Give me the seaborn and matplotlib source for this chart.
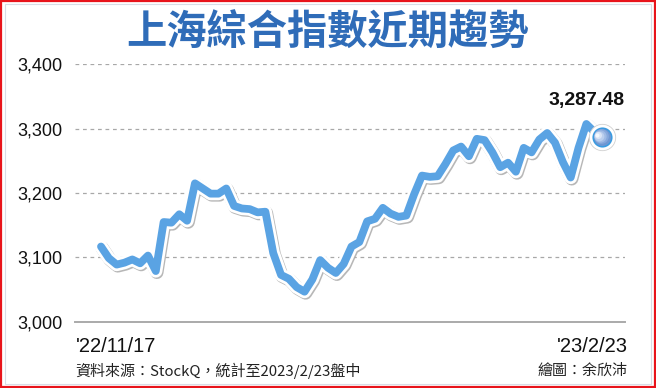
import numpy as np
import pandas as pd
import matplotlib
matplotlib.use("Agg")
import matplotlib.pyplot as plt
import matplotlib.patheffects as pe
import matplotlib.transforms as mtrans
from matplotlib.patches import Rectangle
import seaborn as sns

# ---- data ----
title = "上海綜合指數近期趨勢"
values = [3117, 3099, 3089, 3092, 3097, 3091, 3103, 3079, 3155, 3154,
          3167, 3157, 3215, 3207, 3199, 3199, 3207, 3180, 3176, 3175,
          3170, 3171, 3107, 3073, 3067, 3054, 3047, 3066, 3096, 3084,
          3076, 3090, 3117, 3124, 3156, 3160, 3177, 3168, 3163, 3165,
          3198, 3227, 3225, 3226, 3245, 3266, 3272, 3257, 3284, 3282,
          3263, 3240, 3247, 3233, 3270, 3263, 3283, 3293, 3278, 3248,
          3224, 3270, 3307, 3295, 3287.48]
x_tick_labels = ["'22/11/17", "'23/2/23"]
y_ticks = [3000, 3100, 3200, 3300, 3400]
y_tick_labels = ["3,000", "3,100", "3,200", "3,300", "3,400"]
last_label = "3,287.48"
source_text = "資料來源：StockQ，統計至2023/2/23盤中"
credit_text = "繪圖：余欣沛"

df = pd.DataFrame({"idx": np.arange(len(values)), "value": values})

sns.set_theme(style="white")
plt.rcParams["font.family"] = ["Noto Sans CJK TC", "DejaVu Sans"]

W, H = 656, 388
fig = plt.figure(figsize=(W / 100, H / 100), dpi=100)
ax = fig.add_axes([75 / W, 1 - 322 / H, 550 / W, (322 - 64) / H])

n = len(values) - 1
ax.set_xlim(-(101 - 75) / 501 * n, n + (625 - 602) / 501 * n)
ax.set_ylim(3000, 3400)

line_color = "#5AA3E3"
sns.lineplot(data=df, x="idx", y="value", ax=ax, color=line_color,
             linewidth=5.6, clip_on=False, zorder=3)
ln = ax.lines[-1]
ln.set_solid_joinstyle("round")
ln.set_solid_capstyle("round")
ln.set_path_effects([
    pe.SimpleLineShadow(offset=(0.8, -1.0), shadow_color="#B0B0B0", alpha=0.9, linewidth=9.5),
    pe.Stroke(linewidth=9.5, foreground="white", joinstyle="round", capstyle="round"),
    pe.Normal(),
])

# end marker
lx, ly = df["idx"].iloc[-1], df["value"].iloc[-1]
ax.scatter([lx], [ly], s=360, color="white", zorder=4, clip_on=False,
           edgecolors="#D0D0D0", linewidths=0.6)
ax.scatter([lx], [ly], s=210, color="#3A9BE0", zorder=5, clip_on=False, linewidths=0)
grad = ["#7097D2", "#86A8DC", "#A0BBE5", "#BBCFEE", "#D9E4F6", "#F4F8FD"]
for k, c in enumerate(grad):
    s = 150 * (1 - k / len(grad)) ** 1.6
    ax.scatter([lx - 0.12 * k], [ly + 0.5 * k], s=s, color=c, zorder=6 + k,
               clip_on=False, linewidths=0)

ax.annotate(last_label, (lx, ly), xytext=(-11, 20), textcoords="offset points",
            ha="center", va="bottom", fontsize=14, fontweight="bold",
            color="#111111", family=["Liberation Sans", "DejaVu Sans"])

# axes styling
ax.set_yticks(y_ticks, y_tick_labels)
ax.set_xticks([0, n], x_tick_labels)
ax.set_xlabel("")
ax.set_ylabel("")
for side in ["top", "right", "left"]:
    ax.spines[side].set_visible(False)
ax.spines["bottom"].set_color("#AAAAAA")
ax.spines["bottom"].set_linewidth(1.4)
ax.grid(axis="y", color="#A8A8A8", linestyle=(0, (3, 3)), linewidth=0.9)
ax.grid(axis="x", visible=False)
ax.tick_params(axis="y", length=0, pad=9, labelsize=13, labelcolor="#111111")
ax.tick_params(axis="x", length=6, width=1.2, color="#AAAAAA", direction="out",
               pad=5, labelsize=14.5, labelcolor="#111111")
for t in ax.get_yticklabels():
    t.set_fontfamily(["Liberation Sans", "DejaVu Sans"])
xl = ax.get_xticklabels()
for t in xl:
    t.set_fontfamily(["Liberation Sans", "DejaVu Sans"])
xl[0].set_transform(xl[0].get_transform() + mtrans.ScaledTranslation(15 / 100, 0, fig.dpi_scale_trans))
xl[1].set_transform(xl[1].get_transform() + mtrans.ScaledTranslation(-10 / 100, 0, fig.dpi_scale_trans))
ax.set_axisbelow(True)
ax.patch.set_alpha(0)

# title and footer
fig.text(0.5, 1 - 33 / H, title, ha="center", va="center", fontsize=29,
         color="#2F6CB8", fontweight="bold")
fig.text(75 / W, 1 - 371 / H, source_text, ha="left", va="center", fontsize=10.8, color="#222222")
fig.text(627 / W, 1 - 371 / H, credit_text, ha="right", va="center", fontsize=10.8, color="#222222")

# borders
fig.patches.append(Rectangle((1 / W, 1 / H), 1 - 2 / W, 1 - 2 / H, transform=fig.transFigure,
                             fill=False, edgecolor="#E8141B", linewidth=1.6))
fig.patches.append(Rectangle((5 / W, 4 / H), 1 - 10 / W, 1 - 8 / H, transform=fig.transFigure,
                             fill=False, edgecolor="#D8DCE6", linewidth=0.8))

fig.savefig("out.png", dpi=100)
